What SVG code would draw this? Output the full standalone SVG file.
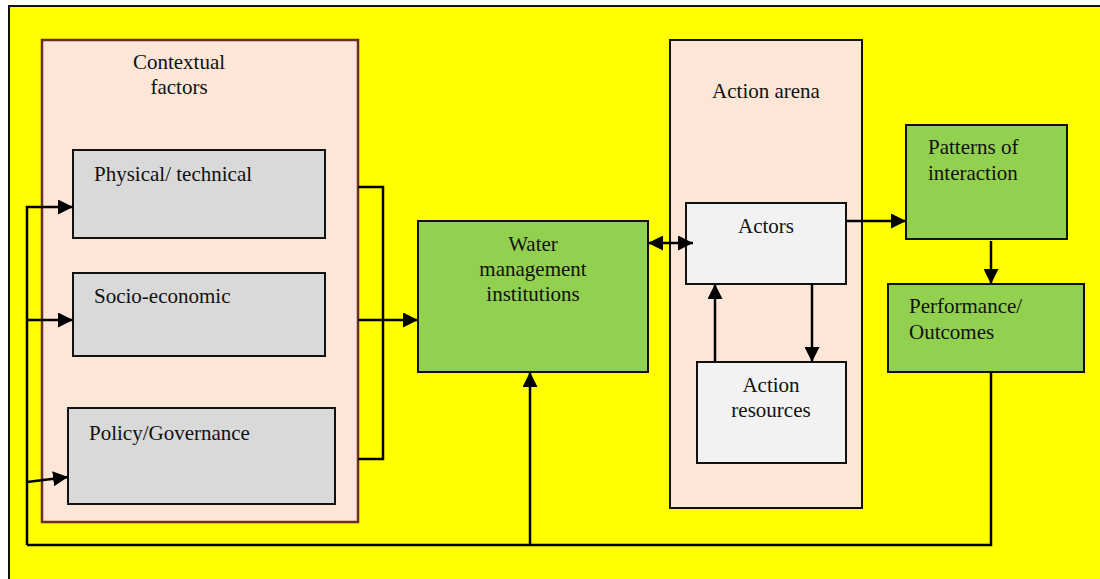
<svg xmlns="http://www.w3.org/2000/svg" width="1100" height="579" viewBox="0 0 1100 579">
<defs>
<style>
text{font-family:"Liberation Serif","Times New Roman",serif;font-size:21px;fill:#111}
.c{text-anchor:middle}
.box{stroke:#111;stroke-width:2}
.grey{fill:#d9d9d9}
.green{fill:#92d050}
.light{fill:#f2f2f2}
.peach{fill:#fce6d8}
.ln{fill:none;stroke:#000;stroke-width:2.5}
</style>
<marker id="ah" viewBox="0 0 10 10" refX="10" refY="5" markerWidth="6" markerHeight="6" markerUnits="strokeWidth" orient="auto-start-reverse">
<path d="M0,0 L10,5 L0,10 z" fill="#000"/>
</marker>
</defs>
<rect x="0" y="0" width="1100" height="579" fill="#fff"/>
<rect x="9" y="6" width="1100" height="590" fill="#ffff00" stroke="#111" stroke-width="2"/>

<g id="contextual">
<rect x="42" y="40" width="316" height="482" fill="#fce6d8" stroke="#6b2c2c" stroke-width="2.5"/>
<text class="c" x="179" y="69">Contextual</text>
<text class="c" x="179" y="94">factors</text>
</g>
<g id="physical">
<rect class="box grey" x="73" y="150" width="252" height="88"/>
<text x="94" y="181">Physical/ technical</text>
</g>
<g id="socio">
<rect class="box grey" x="73" y="273" width="252" height="83"/>
<text x="94" y="303">Socio-economic</text>
</g>
<g id="policy">
<rect class="box grey" x="68" y="408" width="267" height="96"/>
<text x="89" y="440">Policy/Governance</text>
</g>
<g id="water">
<rect class="box green" x="418" y="221" width="230" height="151"/>
<text class="c" x="533" y="251">Water</text>
<text class="c" x="533" y="276">management</text>
<text class="c" x="533" y="301">institutions</text>
</g>
<g id="arena">
<rect class="box peach" x="670" y="40" width="192" height="468"/>
<text class="c" x="766" y="98">Action arena</text>
</g>
<g id="actors">
<rect class="box light" x="686" y="203" width="160" height="81"/>
<text class="c" x="766" y="233">Actors</text>
</g>
<g id="resources">
<rect class="box light" x="697" y="362" width="149" height="101"/>
<text class="c" x="771" y="392">Action</text>
<text class="c" x="771" y="417">resources</text>
</g>
<g id="patterns">
<rect class="box green" x="906" y="125" width="161" height="114"/>
<text x="928" y="154">Patterns of</text>
<text x="928" y="180">interaction</text>
</g>
<g id="performance">
<rect class="box green" x="888" y="284" width="196" height="88"/>
<text x="909" y="313">Performance/</text>
<text x="909" y="339">Outcomes</text>
</g>

<g id="connectors">
<polyline class="ln" points="27,545 27,207 73,207" marker-end="url(#ah)"/>
<line class="ln" x1="27" y1="320" x2="73" y2="320" marker-end="url(#ah)"/>
<line class="ln" x1="27" y1="482" x2="68" y2="477" marker-end="url(#ah)"/>
<polyline class="ln" points="358,187 383,187 383,459 358,459"/>
<line class="ln" x1="358" y1="320" x2="418" y2="320" marker-end="url(#ah)"/>
<line class="ln" x1="648" y1="243" x2="693" y2="243" marker-start="url(#ah)" marker-end="url(#ah)"/>
<line class="ln" x1="715" y1="362" x2="715" y2="284" marker-end="url(#ah)"/>
<line class="ln" x1="812" y1="284" x2="812" y2="362" marker-end="url(#ah)"/>
<line class="ln" x1="846" y1="221" x2="906" y2="221" marker-end="url(#ah)"/>
<line class="ln" x1="991" y1="241" x2="991" y2="284" marker-end="url(#ah)"/>
<polyline class="ln" points="991,372 991,545 27,545"/>
<line class="ln" x1="530" y1="545" x2="530" y2="372" marker-end="url(#ah)"/>
</g>
</svg>
